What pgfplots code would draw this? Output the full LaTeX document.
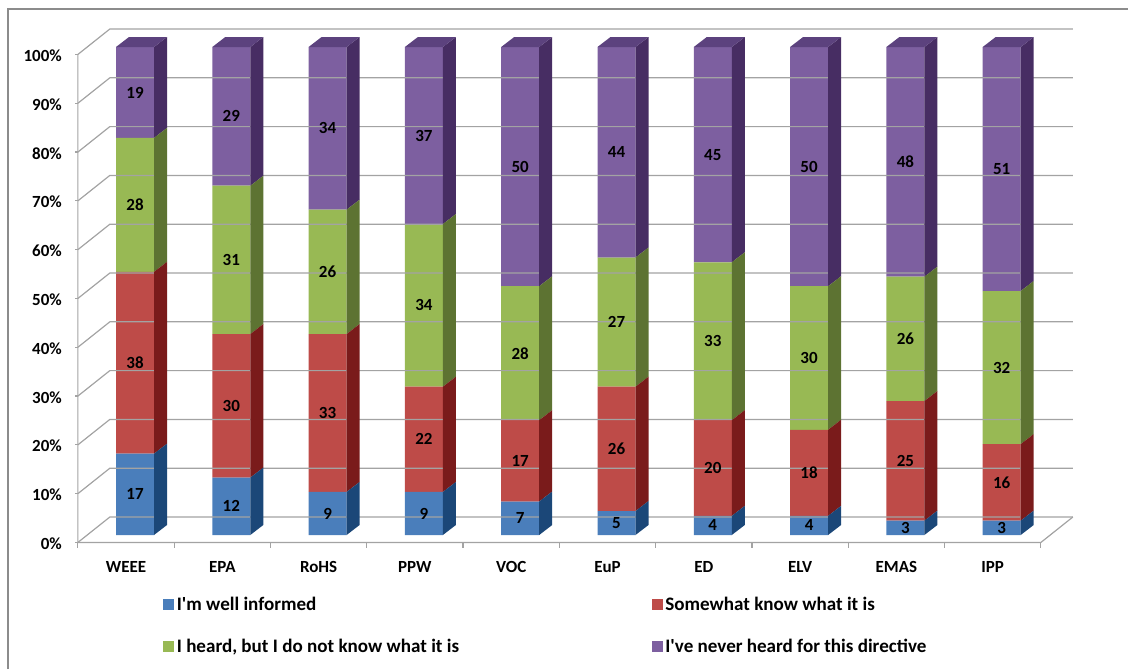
\documentclass[border=0pt]{standalone}
\usepackage{fontspec}
\setmainfont{Carlito}
\usepackage{pgfplots}
\usepackage{pgfplotstable}
\pgfplotsset{compat=1.18}

\definecolor{blueF}{HTML}{4A7EBB}
\definecolor{blueS}{HTML}{1B4778}
\definecolor{redF}{HTML}{BE4B48}
\definecolor{redS}{HTML}{7A1B1B}
\definecolor{greenF}{HTML}{98B954}
\definecolor{greenS}{HTML}{5D7332}
\definecolor{purpF}{HTML}{7D5FA0}
\definecolor{purpS}{HTML}{472D63}
\definecolor{purpT}{HTML}{5C427E}
\definecolor{gridc}{HTML}{A3A3A3}
\definecolor{framec}{HTML}{8C8C8C}

\pgfdeclareplotmark{empty3d}{}

\pgfplotstableread{
x a b c d
0 17 38 28 19
1 12 30 31 29
2 9 33 26 34
3 9 22 34 37
4 7 17 28 50
5 5 26 27 44
6 4 20 33 45
7 4 18 30 50
8 3 25 26 48
9 3 16 32 51
}\data

\pgfplotsset{
  bar3d/.style n args={3}{
    fill=#1, draw=none, scatter, mark=empty3d,
    visualization depends on=rawy\as\h,
    scatter/@pre marker code/.code={%
      \fill[#2] (14.25pt,0pt) -- ++(9.75pt,7.5pt) -- ++(0pt,-\h*3.58824pt) -- ++(-9.75pt,-7.5pt) -- cycle;
      #3%
      \pgfmathtruncatemacro\hv{\h}%
      \node[text=black, inner sep=0pt, font=\bfseries\fontsize{12.75}{15}\selectfont] at (0pt,-\h*1.79412pt) {\hv};
    },
    scatter/@post marker code/.code={},
    legend image code/.code={\fill[##1,draw=none] (0pt,-4pt) rectangle (8.25pt,4.25pt);},
  },
}

\begin{document}
\begin{tikzpicture}
\path[use as bounding box] (0,0) rectangle (846pt,501.75pt);
\draw[framec, line width=1.1pt] (6pt,0pt) -- (6pt,495pt) -- (846pt,495pt);
\begin{axis}[
  at={(65.14pt,100.5pt)}, anchor=south west,
  scale only axis, width=722.25pt, height=366pt,
  xmin=-0.5, xmax=9.5, ymin=0, ymax=102,
  clip=false, axis line style={draw=none}, major tick length=0pt,
  ybar stacked, bar width=28.5pt,
  xtick={0,...,9},
  xticklabels={WEEE,EPA,RoHS,PPW,VOC,EuP,ED,ELV,EMAS,IPP},
  ytick={0,10.2,20.4,30.6,40.8,51,61.2,71.4,81.6,91.8,102},
  yticklabels={0\%,10\%,20\%,30\%,40\%,50\%,60\%,70\%,80\%,90\%,100\%},
  tick label style={font=\bfseries\fontsize{12.75}{15}\selectfont},
  xticklabel style={anchor=north, inner sep=0pt, xshift=-6.75pt, yshift=-19.5pt},
  yticklabel style={anchor=east, inner sep=0pt, xshift=-18.6pt, yshift=-6.5pt},
  legend columns=2,
  legend style={at={(rel axis cs:0.079,-0.121)}, anchor=north west, draw=none, fill=none,
    inner sep=0pt, row sep=16pt, font=\bfseries\fontsize{14.3}{17}\selectfont,
    /tikz/every even column/.append style={column sep=142.5pt}},
  legend cell align=left,
]
% walls and grid
\pgfplotsinvokeforeach{0,10.2,20.4,30.6,40.8,51,61.2,71.4,81.6,91.8,102}{
  \draw[gridc, line width=0.9pt] ([xshift=-6.75pt,yshift=-5.6pt]axis cs:-0.5,#1)
     -- ([xshift=17.25pt,yshift=13.5pt]axis cs:-0.5,#1)
     -- ([xshift=17.25pt,yshift=13.5pt]axis cs:9.5,#1);
  \draw[gridc, line width=0.9pt] ([xshift=-6.75pt,yshift=-5.6pt]axis cs:-0.5,#1) -- ++(-2.5pt,0pt);
}
\draw[gridc, line width=0.9pt] ([xshift=-6.75pt,yshift=-5.6pt]axis cs:-0.5,102)
   -- ([xshift=-6.75pt,yshift=-5.6pt]axis cs:-0.5,0)
   -- ([xshift=-6.75pt,yshift=-5.6pt]axis cs:9.5,0)
   -- ([xshift=17.25pt,yshift=13.5pt]axis cs:9.5,0);
\pgfplotsinvokeforeach{-0.5,0.5,1.5,2.5,3.5,4.5,5.5,6.5,7.5,8.5,9.5}{
  \draw[gridc, line width=0.9pt] ([xshift=-6.75pt,yshift=-5.6pt]axis cs:#1,0) -- ++(0pt,-4pt);
}
\addplot[bar3d={blueF}{blueS}{}] table[x=x,y=a] {\data};
\addplot[bar3d={redF}{redS}{}] table[x=x,y=b] {\data};
\addplot[bar3d={greenF}{greenS}{}] table[x=x,y=c] {\data};
\addplot[bar3d={purpF}{purpS}{\fill[purpT] (-14.25pt,0pt) -- (14.25pt,0pt) -- ++(9.75pt,7.5pt) -- ++(-28.5pt,0pt) -- cycle;}] table[x=x,y=d] {\data};
\legend{I\textquotesingle m well informed,Somewhat know what it is,{I heard, but I do not know what it is},I\textquotesingle ve never heard for this directive}
\end{axis}
\end{tikzpicture}
\end{document}
